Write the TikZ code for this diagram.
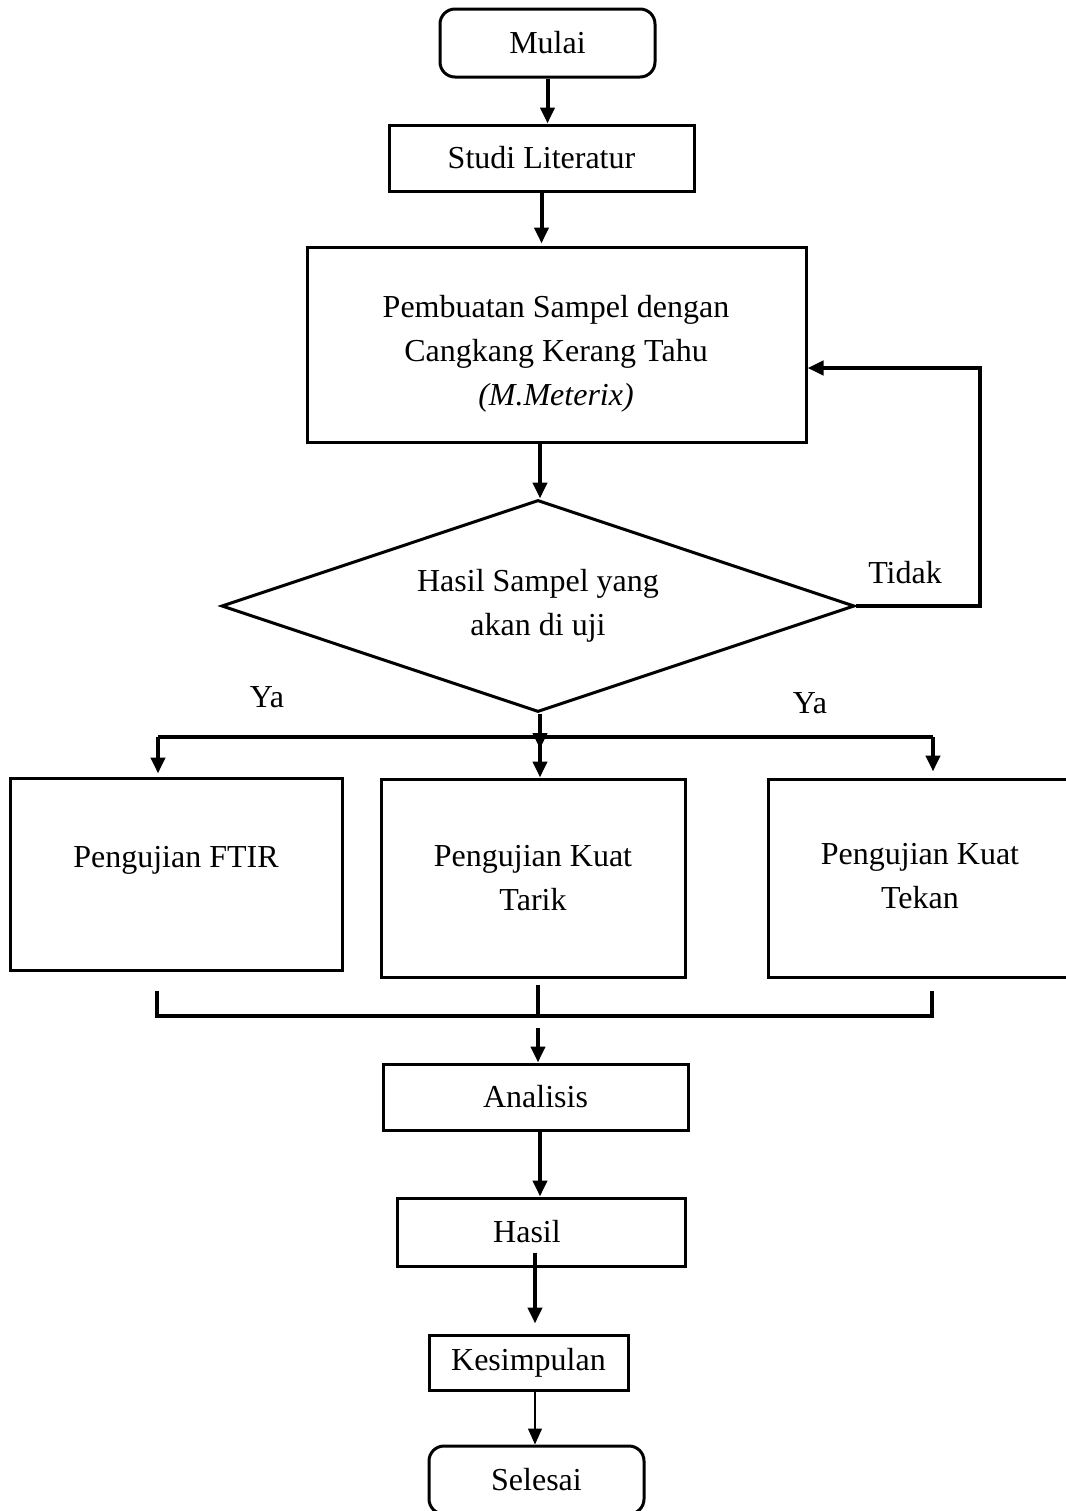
\documentclass[tikz,border=0pt]{standalone}
\usepackage{fontspec}
\setmainfont{Liberation Serif}
\usetikzlibrary{arrows.meta,shapes.geometric}
\begin{document}
\begin{tikzpicture}[x=0.5pt,y=-0.5pt,
 every node/.style={font=\fontsize{16}{22}\selectfont},
 box/.style={draw,line width=1.5pt,inner sep=0pt,align=center},
 rbox/.style={box,rounded corners=7.5pt},
 arr/.style={line width=2pt,-{Triangle[length=8pt,width=7pt]}},
 thinarr/.style={line width=0.6pt,-{Triangle[length=8pt,width=7pt]}},
 ln/.style={line width=2pt},
 txt/.style={align=center,inner sep=0pt}]
\useasboundingbox (0,0) rectangle (1066,1511);
% nodes
\node[rbox,minimum width=107.5pt,minimum height=34pt] (mulai) at (547.5,43) {Mulai};
\node[box,minimum width=152.5pt,minimum height=33pt] (studi) at (541.5,158) {Studi Literatur};
\node[box,minimum width=249.5pt,minimum height=97.5pt] (pemb) at (556.5,344.5) {};
\node[txt] (pembT) at (556,354) {Pembuatan Sampel dengan\\Cangkang Kerang Tahu\\\textit{(M.Meterix)}};
\node[diamond,draw,line width=1.5pt,inner sep=0pt,shape aspect=2.97,minimum width=316.5pt,minimum height=106pt,align=center] (dia) at (538,606) {Hasil Sampel yang\\akan di uji};
\node[box,minimum width=166pt,minimum height=96pt] (ftir) at (176,874) {};
\node[txt] (ftirT) at (176,860) {Pengujian FTIR};
\node[box,minimum width=152pt,minimum height=99pt] (tarik) at (533,878) {Pengujian Kuat\\Tarik};
\node[box,minimum width=152pt,minimum height=99pt] (tekan) at (920,878) {};
\node[txt] (tekanT) at (920,876) {Pengujian Kuat\\Tekan};
\node[box,minimum width=152.5pt,minimum height=33pt] (anal) at (535.5,1097) {Analisis};
\node[box,minimum width=144pt,minimum height=34pt] (hasil) at (541,1232) {};
\node[txt] (hasilT) at (527,1232) {Hasil};
\node[box,minimum width=99.5pt,minimum height=27.5pt] (kes) at (528.5,1362.5) {Kesimpulan};
\node[rbox,minimum width=107.5pt,minimum height=34pt] (sel) at (536.5,1480) {Selesai};
% labels
\node[txt] (ya1) at (267,697) {Ya};
\node[txt] (ya2) at (810,703) {Ya};
\node[txt] (tidak) at (905,573) {Tidak};
% coordinates
\coordinate (split) at (540,737);
\coordinate (sL) at (158,737);
\coordinate (sR) at (933,737);
\coordinate (mL) at (157,1016);
\coordinate (mM) at (538,1016);
\coordinate (mR) at (932,1016);
\coordinate (loopc) at (980,368);
\coordinate (xA) at (540,0);
\coordinate (xK) at (535,0);
% connectors
\draw[arr] (mulai.south) -- (mulai.south |- studi.north);
\draw[arr] (studi.south) -- ([yshift=1pt]studi.south |- pemb.north);
\draw[arr] (split |- pemb.south) -- (split |- dia.north);
\draw[arr] (dia.east) -| (loopc) -- (loopc -| pemb.east);
\draw[ln] (sL) -- (sR);
\draw[arr] (split |- dia.south) -- ([yshift=-6pt]split);
\draw[arr] (sL) -- ([yshift=1.5pt]sL |- ftir.north);
\draw[arr] (split) -- (split |- tarik.north);
\draw[arr] (sR) -- ([yshift=3pt]sR |- tekan.north);
\draw[ln] ([yshift=-6pt]mL |- tarik.south) -- (mL) -- (mR) -- ([yshift=-6pt]mR |- tarik.south);
\draw[ln] ([yshift=-3pt]mM |- tarik.south) -- (mM);
\draw[arr] ([yshift=-6pt]mM) -- (mM |- anal.north);
\draw[arr] (xA |- anal.south) -- (xA |- hasil.north);
\draw[arr] ([yshift=7.5pt]xK |- hasil.south) -- ([yshift=5pt]xK |- kes.north);
\draw[thinarr] (xK |- kes.south) -- (xK |- sel.north);
\end{tikzpicture}
\end{document}
